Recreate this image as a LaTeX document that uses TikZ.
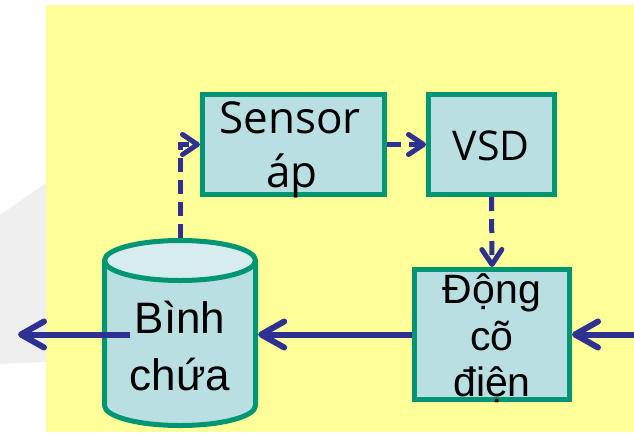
\documentclass[tikz,border=0pt]{standalone}
\usepackage{fontspec}
\setmainfont{Liberation Sans}
\newfontfamily\humfont{Open Sans}
\usetikzlibrary{arrows.meta}
\definecolor{pagebg}{HTML}{FFFF99}
\definecolor{boxfill}{HTML}{B9DFE2}
\definecolor{capfill}{HTML}{D6ECEE}
\definecolor{boxline}{HTML}{009673}
\definecolor{flow}{HTML}{2E3192}
\definecolor{swoosh}{HTML}{EFEFEF}

\begin{document}
\begin{tikzpicture}[x=1pt,y=-1pt,
  block/.style={draw=boxline, fill=boxfill, line width=5pt, inner sep=0pt},
  lbl/.style={anchor=base, inner sep=0pt},
  signal/.style={draw=flow, line width=5pt, dash pattern=on 14pt off 8pt,
    -{Straight Barb[length=15pt,width=20pt,round]}},
  pipe/.style={draw=flow, line width=6pt,
    -{Straight Barb[length=23pt,width=26pt,round]}}]
\useasboundingbox (0,0) rectangle (634,432);

% faint backdrop
\fill[swoosh] (0,215) -- (46,183) -- (46,362) -- (0,364) -- cycle;
\fill[pagebg] (46,5) rectangle (634,432);

% blocks
\node[block, minimum width=182pt, minimum height=100pt] (sensor) at (293.5,144.5) {};
\node[block, minimum width=126pt, minimum height=100pt] (vsd) at (491.5,144.5) {};
\node[block, minimum width=155pt, minimum height=130pt] (motor) at (492,334.5) {};

% storage tank
\fill[boxfill] (104.5,260.5) -- (104.5,405.5)
  arc[start angle=180, end angle=0, x radius=75.5, y radius=20] -- (255.5,260.5) -- cycle;
\draw[boxline, line width=5pt] (104.5,260.5) -- (104.5,405.5)
  arc[start angle=180, end angle=0, x radius=75.5, y radius=20] -- (255.5,260.5);
\draw[boxline, line width=5pt, fill=capfill] (180,260.5) ellipse[x radius=75.5, y radius=20];
\node[minimum width=156pt, minimum height=190pt, inner sep=0pt] (tank) at (180,333) {};

% labels
\node[lbl, font=\humfont\fontsize{44pt}{50pt}\selectfont] (sensorA) at (290,133) {Sensor};
\node[lbl, font=\humfont\fontsize{44pt}{50pt}\selectfont] (sensorB) at (292,187) {áp};
\node[lbl, font=\humfont\fontsize{41pt}{48pt}\selectfont] (vsdA) at (491,160) {VSD};
\node[lbl, font=\fontsize{44pt}{50pt}\selectfont] (tankA) at (180,333) {Bình};
\node[lbl, font=\fontsize{44pt}{50pt}\selectfont] (tankB) at (180,390) {chứa};
\node[lbl, font=\fontsize{41pt}{46pt}\selectfont] (motorA) at (492,303) {Động};
\node[lbl, font=\fontsize{41pt}{46pt}\selectfont] (motorB) at (492,350) {cõ};
\node[lbl, font=\fontsize{41pt}{46pt}\selectfont] (motorC) at (492,396) {điện};

% free ends of the pipes
\coordinate (feed) at (634,334.5);
\coordinate (drain) at (130,334.5);
\coordinate (outlet) at (18,334.5);

% control signals
\draw[signal] (tank.north) |- (sensor.west);
\draw[signal] (sensor.east) -- (vsd.west);
\draw[signal] (vsd.south) -- (motor.north);

% flow
\draw[pipe] (feed) -- (motor.east);
\draw[pipe] (motor.west) -- (motor.west -| tank.east);
\draw[pipe] (drain) -- (outlet);
\end{tikzpicture}
\end{document}
